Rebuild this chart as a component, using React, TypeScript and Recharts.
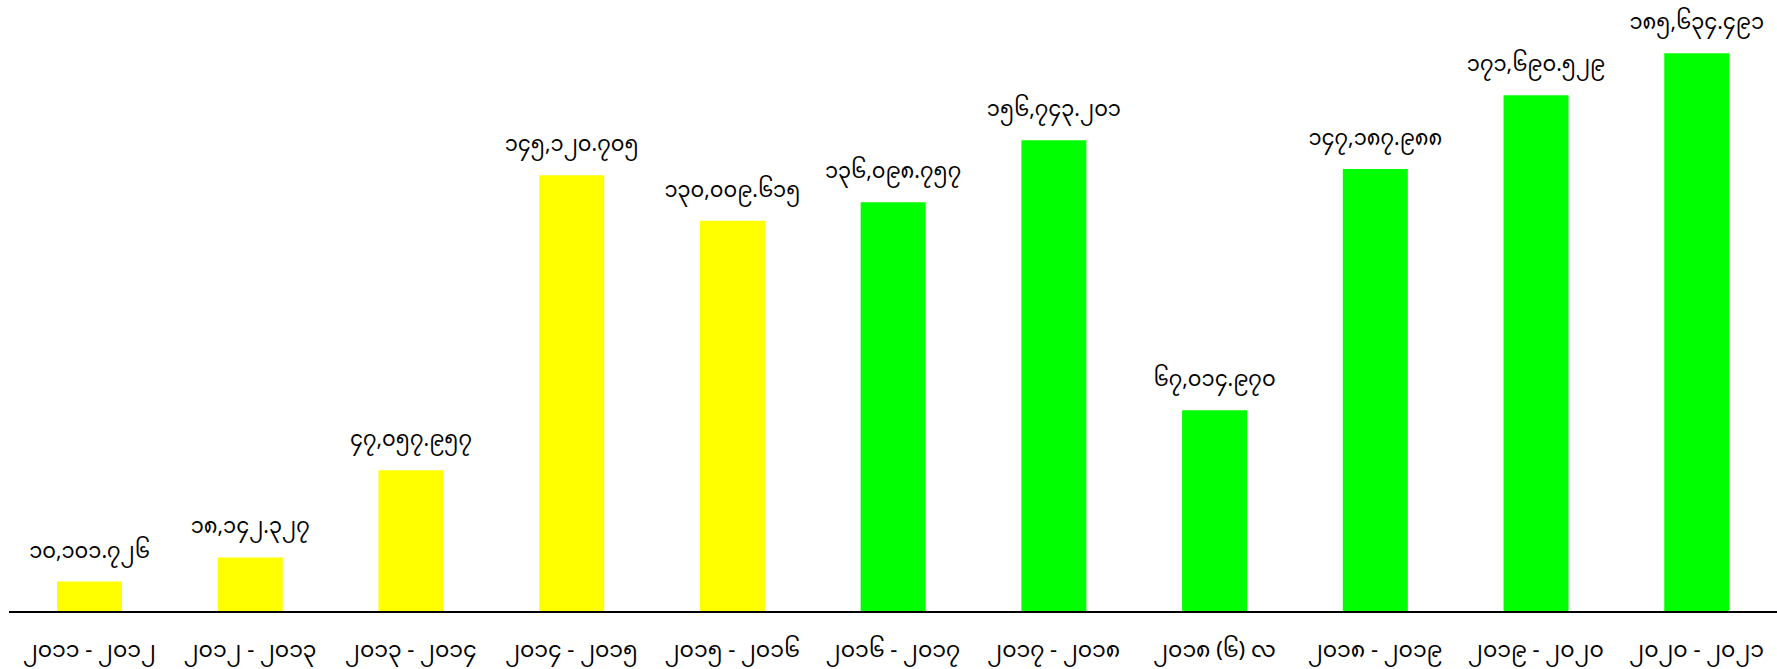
import React from "react";
import { BarChart, Bar, XAxis, YAxis, Cell, LabelList } from "recharts";

const categories = [
  "၂၀၁၁ - ၂၀၁၂",
  "၂၀၁၂ - ၂၀၁၃",
  "၂၀၁၃ - ၂၀၁၄",
  "၂၀၁၄ - ၂၀၁၅",
  "၂၀၁၅ - ၂၀၁၆",
  "၂၀၁၆ - ၂၀၁၇",
  "၂၀၁၇ - ၂၀၁၈",
  "၂၀၁၈ (၆) လ",
  "၂၀၁၈ - ၂၀၁၉",
  "၂၀၁၉ - ၂၀၂၀",
  "၂၀၂၀ - ၂၀၂၁",
];

const values = [
  10101.726, 18142.327, 47057.957, 145120.705, 130009.615, 136098.757,
  156743.201, 67014.97, 147187.988, 171690.529, 185634.491,
];

const colors = [
  "#FFFF00", "#FFFF00", "#FFFF00", "#FFFF00", "#FFFF00",
  "#00FF00", "#00FF00", "#00FF00", "#00FF00", "#00FF00", "#00FF00",
];

const myDigits = ["၀", "၁", "၂", "၃", "၄", "၅", "၆", "၇", "၈", "၉"];

const toMyanmar = (v: number) =>
  v
    .toLocaleString("en-US", { minimumFractionDigits: 3, maximumFractionDigits: 3 })
    .replace(/[0-9]/g, (d) => myDigits[Number(d)]);

const data = categories.map((c, i) => ({ name: c, value: values[i] }));

const FONT = "'Noto Sans Myanmar', Padauk, 'Myanmar Text', sans-serif";

export default function App() {
  return (
    <div style={{ position: "absolute", left: 0, top: 0, width: 1777, height: 669, overflow: "hidden", background: "#fff" }}>
      <BarChart
        width={1777}
        height={669}
        data={data}
        margin={{ top: 10, right: 0, bottom: 0, left: 9 }}
        barCategoryGap="30%"
      >
        <XAxis
          dataKey="name"
          height={57}
          axisLine={{ stroke: "#000", strokeWidth: 2 }}
          tickLine={false}
          interval={0}
          tickMargin={23}
          tick={{ fill: "#000", fontSize: 22, fontFamily: FONT }}
        />
        <YAxis hide domain={[0, 200000]} />
        <Bar dataKey="value" isAnimationActive={false} barSize={65}>
          {data.map((d, i) => (
            <Cell key={i} fill={colors[i]} />
          ))}
          <LabelList
            dataKey="value"
            position="top"
            offset={24}
            formatter={(v: any) => toMyanmar(Number(v))}
            style={{ fill: "#000", fontSize: 21, fontFamily: FONT }}
          />
        </Bar>
      </BarChart>
    </div>
  );
}
